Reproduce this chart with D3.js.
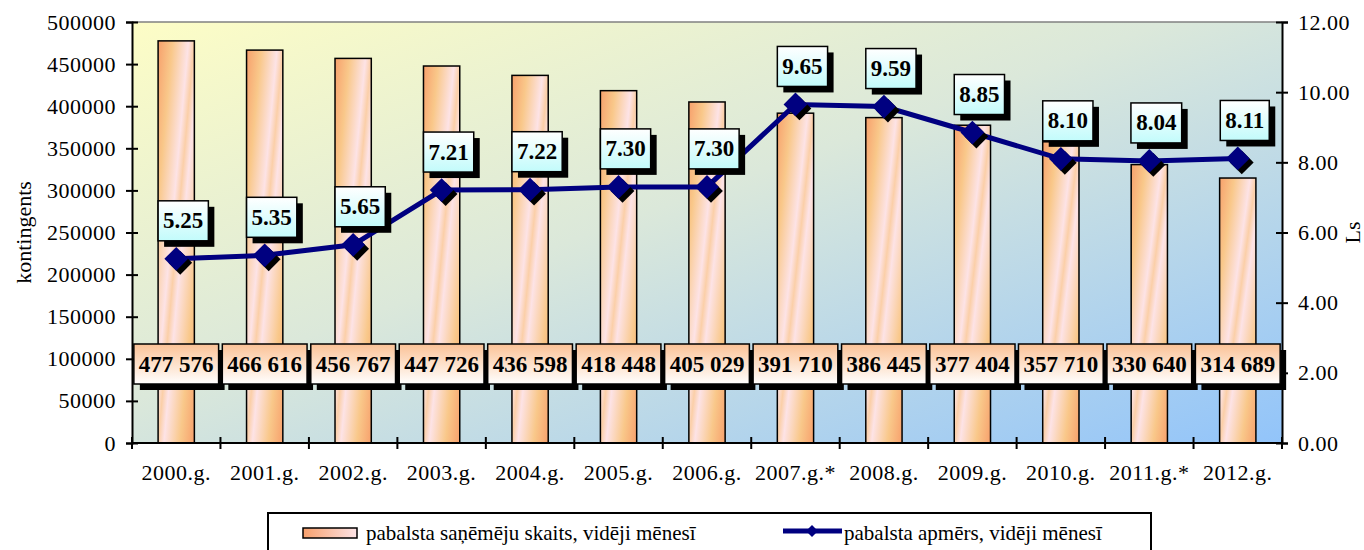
<!DOCTYPE html>
<html>
<head>
<meta charset="utf-8">
<script src="https://cdn.jsdelivr.net/npm/d3@7"></script>
<style>
  html, body { margin: 0; padding: 0; background: #fff; }
  svg, svg text { font-family: "Liberation Serif", "Times New Roman", serif; }
</style>
</head>
<body>
<div id="chart"></div>
<script>
// ── Data ──
const categories = ['2000.g.', '2001.g.', '2002.g.', '2003.g.', '2004.g.', '2005.g.', '2006.g.',
  '2007.g.*', '2008.g.', '2009.g.', '2010.g.', '2011.g.*', '2012.g.'];
const recipients = [477576, 466616, 456767, 447726, 436598, 418448, 405029,
  391710, 386445, 377404, 357710, 330640, 314689];
const benefit = [5.25, 5.35, 5.65, 7.21, 7.22, 7.30, 7.30, 9.65, 9.59, 8.85, 8.10, 8.04, 8.11];
const leftTicks = [0, 50000, 100000, 150000, 200000, 250000, 300000, 350000, 400000, 450000, 500000];
const rightTicks = [0, 2, 4, 6, 8, 10, 12];
const legendLabels = ['pabalsta saņēmēju skaits, vidēji mēnesī', 'pabalsta apmērs, vidēji mēnesī'];

const W = 1364, H = 550;
const plot = { left: 132, right: 1282, top: 22, bottom: 443 };

const svg = d3.select('#chart').append('svg')
  .attr('width', W)
  .attr('height', H);

const defs = svg.append('defs');

// plot background: yellow top-left -> blue bottom-right
const bg = defs.append('linearGradient').attr('id', 'bgGrad')
  .attr('x1', 0).attr('y1', 0).attr('x2', 1).attr('y2', 1);
bg.append('stop').attr('offset', '0%').attr('stop-color', '#fdfdc6');
bg.append('stop').attr('offset', '45%').attr('stop-color', '#dbe8da');
bg.append('stop').attr('offset', '100%').attr('stop-color', '#92c4fa');

// bar fill: diagonal orange / pink
const barG = defs.append('linearGradient').attr('id', 'barGrad')
  .attr('x1', 0).attr('y1', 0).attr('x2', 1).attr('y2', 1);
[['0%', '#f7a06c'], ['20%', '#f9c88a'], ['42%', '#fde3e6'], ['50%', '#fbcfa8'],
 ['58%', '#fde3e6'], ['80%', '#f9c88a'], ['100%', '#f7a06c']].forEach(([o, c]) => {
  barG.append('stop').attr('offset', o).attr('stop-color', c);
});

const peach = defs.append('linearGradient').attr('id', 'peachGrad')
  .attr('x1', 0).attr('y1', 0).attr('x2', 0).attr('y2', 1);
peach.append('stop').attr('offset', '0%').attr('stop-color', '#fbc296');
peach.append('stop').attr('offset', '100%').attr('stop-color', '#ffffff');

const cyan = defs.append('linearGradient').attr('id', 'cyanGrad')
  .attr('x1', 0).attr('y1', 0).attr('x2', 0).attr('y2', 1);
cyan.append('stop').attr('offset', '0%').attr('stop-color', '#ffffff');
cyan.append('stop').attr('offset', '100%').attr('stop-color', '#c2fbfb');

const legSw = defs.append('linearGradient').attr('id', 'legGrad')
  .attr('x1', 0).attr('y1', 0).attr('x2', 1).attr('y2', 0);
legSw.append('stop').attr('offset', '0%').attr('stop-color', '#f7a06c');
legSw.append('stop').attr('offset', '100%').attr('stop-color', '#fde3e6');

// ── Scales ──
const x = d3.scaleBand().domain(categories).range([plot.left, plot.right]);
const yL = d3.scaleLinear().domain([0, 500000]).range([plot.bottom, plot.top]);
const yR = d3.scaleLinear().domain([0, 12]).range([plot.bottom, plot.top]);
const barW = x.bandwidth() * 0.41;

// background
svg.append('rect')
  .attr('x', plot.left).attr('y', plot.top)
  .attr('width', plot.right - plot.left).attr('height', plot.bottom - plot.top)
  .attr('fill', 'url(#bgGrad)');
svg.append('line')
  .attr('x1', plot.left).attr('x2', plot.right)
  .attr('y1', plot.top).attr('y2', plot.top)
  .attr('stroke', '#808080').attr('stroke-width', 1.5);

// bars
svg.append('g').selectAll('rect')
  .data(recipients)
  .join('rect')
  .attr('x', (d, i) => x(categories[i]) + (x.bandwidth() - barW) / 2)
  .attr('y', d => yL(d))
  .attr('width', barW)
  .attr('height', d => yL(0) - yL(d))
  .attr('fill', 'url(#barGrad)')
  .attr('stroke', '#000')
  .attr('stroke-width', 1.5);

// ── Axes ──
const axisL = svg.append('g')
  .attr('transform', `translate(${plot.left},0)`)
  .call(d3.axisLeft(yL).tickValues(leftTicks).tickFormat(d3.format('d')).tickSize(6).tickPadding(10));
const axisR = svg.append('g')
  .attr('transform', `translate(${plot.right},0)`)
  .call(d3.axisRight(yR).tickValues(rightTicks).tickFormat(d3.format('.2f')).tickSize(6).tickPadding(10));
const axisB = svg.append('g')
  .attr('transform', `translate(0,${plot.bottom})`)
  .call(d3.axisBottom(x).tickSize(6).tickPadding(15));

[axisL, axisR, axisB].forEach(a => {
  a.attr('font-family', null);
  a.select('.domain').attr('stroke', '#000').attr('stroke-width', 2);
  a.selectAll('.tick line').attr('stroke', '#000').attr('stroke-width', 2);
  a.selectAll('.tick text')
    .attr('fill', '#000')
    .attr('font-size', '22px')
    .attr('letter-spacing', '0.5px');
});
// ticks cross the axis lines
axisL.selectAll('.tick line').attr('x1', 6).attr('x2', -6);
axisR.selectAll('.tick line').attr('x1', -6).attr('x2', 6);
// category ticks sit on band boundaries
axisB.selectAll('.tick line').attr('transform', `translate(${-x.bandwidth() / 2},0)`).attr('y1', -6).attr('y2', 6);
axisB.append('line')
  .attr('x1', plot.right).attr('x2', plot.right).attr('y1', -6).attr('y2', 6)
  .attr('stroke', '#000').attr('stroke-width', 2);
axisB.select('.domain').attr('d', `M${plot.left},0H${plot.right}`);

// axis titles
svg.append('text')
  .attr('transform', `translate(31,${(plot.top + plot.bottom) / 2}) rotate(-90)`)
  .attr('text-anchor', 'middle')
  .attr('font-size', '22px')
  .text('kontingents');
svg.append('text')
  .attr('transform', `translate(1360,${(plot.top + plot.bottom) / 2}) rotate(-90)`)
  .attr('text-anchor', 'middle')
  .attr('font-size', '22px')
  .text('Ls');

// ── Line series ──
const cx = i => x(categories[i]) + x.bandwidth() / 2;
const line = d3.line().x((d, i) => cx(i)).y(d => yR(d));
svg.append('path')
  .datum(benefit)
  .attr('d', line)
  .attr('fill', 'none')
  .attr('stroke', '#000080')
  .attr('stroke-width', 5);

const diamond = d3.symbol().type(d3.symbolDiamond2).size(360);
const markers = svg.append('g').selectAll('g')
  .data(benefit)
  .join('g')
  .attr('transform', (d, i) => `translate(${cx(i)},${yR(d)})`);
markers.append('path').attr('d', diamond).attr('fill', '#000').attr('transform', 'translate(4,4)');
markers.append('path').attr('d', diamond).attr('fill', '#000080');

// ── Data labels ──
const fmtSpace = v => d3.format(',')(v).replace(/,/g, ' ');

function labelBox(g, text, cxv, cyv, fill, fs) {
  const grp = g.append('g');
  const t = grp.append('text')
    .attr('x', cxv).attr('y', cyv)
    .attr('text-anchor', 'middle')
    .attr('dominant-baseline', 'central')
    .attr('font-weight', 'bold')
    .attr('font-size', fs + 'px')
    .text(text);
  const bb = t.node().getBBox();
  const w = bb.width + 10, h = 40;
  grp.insert('rect', 'text')
    .attr('x', cxv - w / 2 + 6).attr('y', cyv - h / 2 + 6)
    .attr('width', w).attr('height', h).attr('fill', '#000');
  grp.insert('rect', 'text')
    .attr('x', cxv - w / 2).attr('y', cyv - h / 2)
    .attr('width', w).attr('height', h)
    .attr('fill', fill).attr('stroke', '#000').attr('stroke-width', 1.5);
}

const barLabels = svg.append('g');
recipients.forEach((v, i) => labelBox(barLabels, fmtSpace(v), cx(i), 364, 'url(#peachGrad)', 23));

const lineLabels = svg.append('g');
benefit.forEach((v, i) => labelBox(lineLabels, v.toFixed(2), cx(i) + 7, yR(v) - 38, 'url(#cyanGrad)', 23));

// ── Legend ──
const legend = svg.append('g');
legend.append('rect')
  .attr('x', 268).attr('y', 513).attr('width', 883).attr('height', 60)
  .attr('fill', '#fff').attr('stroke', '#000').attr('stroke-width', 2);
legend.append('rect')
  .attr('x', 303).attr('y', 528).attr('width', 54).attr('height', 10)
  .attr('fill', 'url(#legGrad)').attr('stroke', '#000').attr('stroke-width', 1.5);
legend.append('text')
  .attr('x', 366).attr('y', 540)
  .attr('font-size', '21px')
  .text(legendLabels[0]);
legend.append('line')
  .attr('x1', 783).attr('x2', 842).attr('y1', 531).attr('y2', 531)
  .attr('stroke', '#000080').attr('stroke-width', 5);
legend.append('path')
  .attr('d', d3.symbol().type(d3.symbolDiamond2).size(90))
  .attr('transform', 'translate(812,531)')
  .attr('fill', '#000080');
legend.append('text')
  .attr('x', 844).attr('y', 540)
  .attr('font-size', '21px')
  .text(legendLabels[1]);
</script>
</body>
</html>
